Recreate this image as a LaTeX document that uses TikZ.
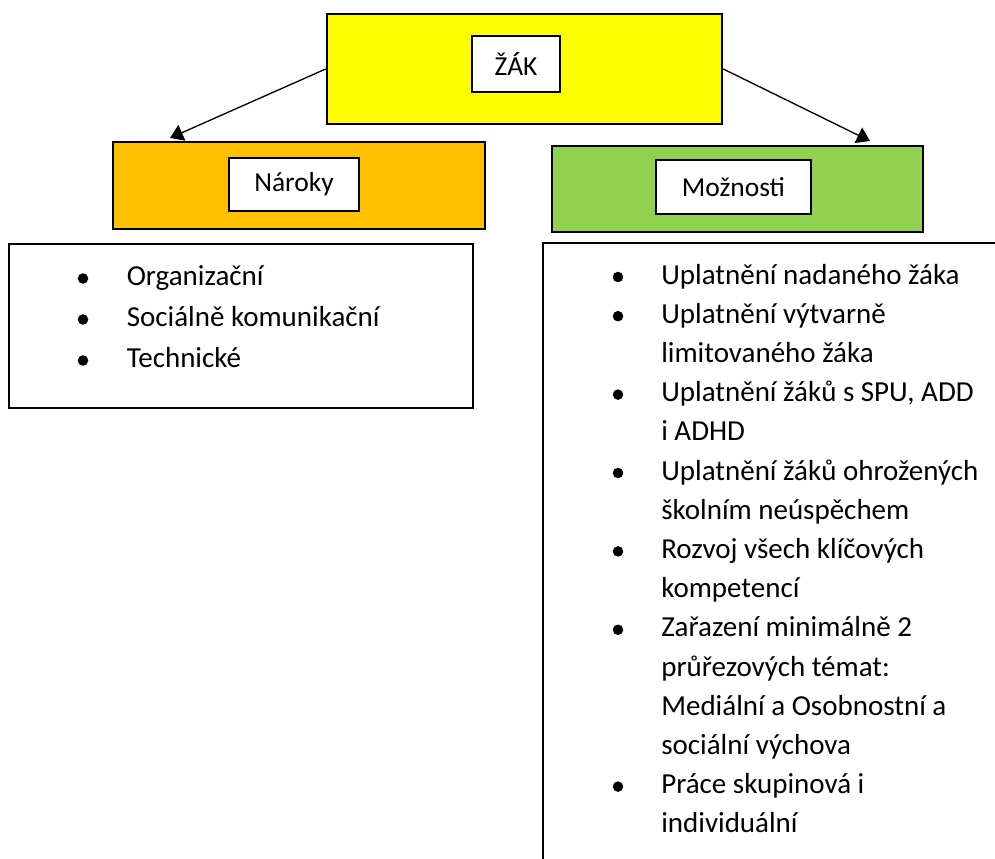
\documentclass[tikz,border=0pt]{standalone}
\usepackage{fontspec}
\setmainfont{Carlito}
\usetikzlibrary{arrows.meta}
\definecolor{zakyellow}{HTML}{FFFF00}
\definecolor{narorange}{HTML}{FFC000}
\definecolor{mozgreen}{HTML}{92D050}
\begin{document}
\begin{tikzpicture}[x=0.75pt,y=-0.75pt,
  bigbox/.style={draw=black, line width=2pt, rectangle, inner sep=0pt},
  labelbox/.style={draw=black, fill=white, line width=1.25pt, rectangle, inner sep=0pt,
    font=\fontsize{20.6}{24}\selectfont},
  listbox/.style={draw=black, line width=1.5pt, rectangle, inner sep=0pt},
  listtext/.style={anchor=base west, inner sep=0pt, font=\fontsize{21.75}{26}\selectfont},
  bulletdot/.style={circle, fill=black, inner sep=0pt, minimum size=7.9pt},
  link/.style={line width=1pt, -{Triangle[length=9.75pt,width=12.75pt]}}
]
\useasboundingbox (0,0) rectangle (995,859);
\clip (0,0) rectangle (995,859);

% top box
\node[bigbox, fill=zakyellow, minimum width=296.25pt, minimum height=82.5pt] (zak) at (524.5,69) {};
\node[labelbox, minimum width=66pt, minimum height=42pt] (zaklabel) at (516,64) {ŽÁK};

% Nároky
\node[bigbox, fill=narorange, minimum width=279pt, minimum height=65.25pt] (naroky) at (299,185.5) {};
\node[labelbox, minimum width=97.5pt, minimum height=39.75pt] (narokylabel) at (294,184.5) {Nároky};

% Možnosti
\node[bigbox, fill=mozgreen, minimum width=278.25pt, minimum height=64.5pt] (moznosti) at (737.5,189) {};
\node[labelbox, minimum width=116.25pt, minimum height=40.5pt] (moznostilabel) at (733.5,187) {Možnosti};

% arrows
\coordinate (tipL) at (170,138);
\coordinate (tipR) at (870,141);
\draw[link] (zak.west) -- (tipL);
\draw[link] (zak.east) -- (tipR);

% list boxes
\node[listbox, minimum width=348pt, minimum height=123pt] (leftlist) at (241,326) {};
\node[listbox, minimum width=375pt, minimum height=525pt] (rightlist) at (793,593) {};

% left list
\node[bulletdot] (lb1) at (83,278.5) {};
\node[bulletdot] (lb2) at (83,319.5) {};
\node[bulletdot] (lb3) at (83,360.5) {};
\node[listtext] (l1) at (126.5,285.5) {Organizační};
\node[listtext] (l2) at (126.5,326.5) {Sociálně komunikační};
\node[listtext] (l3) at (126.5,367.5) {Technické};

% right list
\node[bulletdot] (rb1) at (618,277) {};
\node[bulletdot] (rb2) at (618,316.2) {};
\node[bulletdot] (rb3) at (618,394.6) {};
\node[bulletdot] (rb4) at (618,473) {};
\node[bulletdot] (rb5) at (618,551.4) {};
\node[bulletdot] (rb6) at (618,629.8) {};
\node[bulletdot] (rb7) at (618,786.6) {};

\node[listtext] (r1) at (661,284) {Uplatnění nadaného žáka};
\node[listtext] (r2) at (661,323.2) {Uplatnění výtvarně};
\node[listtext] (r3) at (661,362.4) {limitovaného žáka};
\node[listtext] (r4) at (661,401.6) {Uplatnění žáků s SPU, ADD};
\node[listtext] (r5) at (661,440.8) {i ADHD};
\node[listtext] (r6) at (661,480) {Uplatnění žáků ohrožených};
\node[listtext] (r7) at (661,519.2) {školním neúspěchem};
\node[listtext] (r8) at (661,558.4) {Rozvoj všech klíčových};
\node[listtext] (r9) at (661,597.6) {kompetencí};
\node[listtext] (r10) at (661,636.8) {Zařazení minimálně 2};
\node[listtext] (r11) at (661,676) {průřezových témat:};
\node[listtext] (r12) at (661,715.2) {Mediální a Osobnostní a};
\node[listtext] (r13) at (661,754.4) {sociální výchova};
\node[listtext] (r14) at (661,793.6) {Práce skupinová i};
\node[listtext] (r15) at (661,832.8) {individuální};
\end{tikzpicture}
\end{document}
